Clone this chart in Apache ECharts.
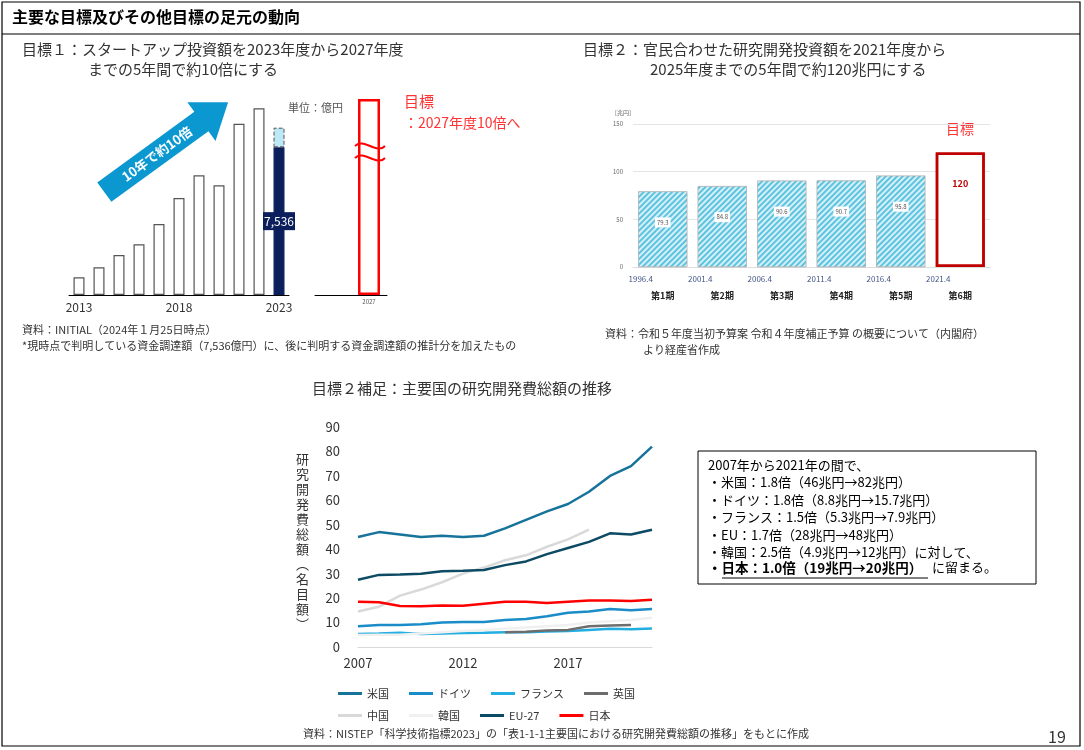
<!DOCTYPE html>
<html><head><meta charset="utf-8">
<script src="https://cdn.jsdelivr.net/npm/echarts@6/dist/echarts.min.js"></script>
<style>html,body{margin:0;padding:0;background:#fff}#c{width:1084px;height:750px}</style>
</head><body><div id="c"></div>
<script>
// 目標1: スタートアップ投資額（億円）
const startupYears = ['2013','2014','2015','2016','2017','2018','2019','2020','2021','2022','2023'];
const startupValues = [900, 1410, 2040, 2590, 3620, 4950, 6110, 5600, 8740, 9530, 7536];
const startupEstimate = [null, null, null, null, null, null, null, null, null, null, 1000];
const targetYears = ['', '2027'];
const targetValues = [null, 10000];

// 目標2: 科学技術基本計画 研究開発投資（兆円）
const planDates = ['1996.4','2001.4','2006.4','2011.4','2016.4','2021.4'];
const planNames = ['第1期','第2期','第3期','第4期','第5期','第6期'];
const planValues = [79.3, 84.8, 90.6, 90.7, 95.8, 120];

// 主要国の研究開発費総額（兆円）
const years = ['2007','2008','2009','2010','2011','2012','2013','2014','2015','2016','2017','2018','2019','2020','2021'];
const us = [45, 47, 46, 45, 45.5, 45, 45.5, 48.5, 52, 55.5, 58.5, 63.5, 70, 74, 82];
const germany = [8.5, 9, 9, 9.3, 10, 10.2, 10.2, 11, 11.5, 12.6, 14, 14.5, 15.5, 15, 15.5];
const france = [5.3, 5.5, 5.8, 5.3, 5.5, 5.7, 5.8, 6, 6, 6.3, 6.5, 7, 7.5, 7.3, 7.6];
const uk = [null, null, null, null, null, null, null, 6, 6.2, 6.8, 7, 8.5, 8.8, 9, null];
const china = [14.5, 16.5, 21, 23.5, 26.5, 30, 32.5, 35.5, 37.5, 41, 44, 48, null, null, null];
const korea = [4.9, 5, 5, 5.5, 6, 6.5, 7, 7.5, 8, 8.5, 9, 10, 10.5, 11, 12];
const eu27 = [27.5, 29.5, 29.7, 30, 31, 31.2, 31.5, 33.5, 35, 38, 40.5, 43, 46.5, 46, 48];
const japan = [18.5, 18.3, 16.8, 16.7, 17, 16.9, 17.7, 18.5, 18.5, 18, 18.5, 19, 19, 18.8, 19.3];
const legendRow1 = ['米国', 'ドイツ', 'フランス', '英国'];
const legendRow2 = ['中国', '韓国', 'EU-27', '日本'];

const FONT = '"Noto Sans CJK JP", "Noto Sans", sans-serif';
const chart = echarts.init(document.getElementById('c'));

function line(name, data, color, width) {
  return { name, type: 'line', xAxisIndex: 3, yAxisIndex: 3, data, symbol: 'none',
    lineStyle: { color, width: width || 2.5 }, itemStyle: { color }, connectNulls: false };
}
function txt(x, y, text, size, extra) {
  return { type: 'text', left: x, top: y, style: Object.assign({ text, font: (size || 14) + 'px ' + FONT, fill: '#333' }, extra || {}) };
}
function wave(y) {
  return { type: 'bezierCurve', shape: { x1: 355, y1: y, cpx1: 363, cpy1: y - 9, cpx2: 377, cpy2: y + 9, x2: 385, y2: y },
    style: { fill: 'none', stroke: '#ff0000', lineWidth: 2 } };
}
function legend(top, data) {
  return { left: 333, top, itemWidth: 24, itemHeight: 3, itemGap: 20, icon: 'rect',
    textStyle: { fontSize: 11, color: '#333' }, data };
}

const option = {
  textStyle: { fontFamily: FONT },
  animation: false,
  grid: [
    { left: 69, top: 99, width: 220, height: 196 },
    { left: 315, top: 99, width: 72, height: 196 },
    { left: 633, top: 124, width: 357, height: 143 },
    { left: 358, top: 427, width: 294, height: 220 }
  ],
  xAxis: [
    { gridIndex: 0, type: 'category', data: startupYears, axisTick: { show: false },
      axisLine: { lineStyle: { color: '#000' } },
      axisLabel: { interval: 4, color: '#333', fontSize: 12, margin: 6 } },
    { gridIndex: 1, type: 'category', data: targetYears, axisTick: { show: false },
      axisLine: { lineStyle: { color: '#000' } },
      axisLabel: { color: '#555', fontSize: 6, margin: 4 } },
    { gridIndex: 2, type: 'category', data: planDates, axisTick: { show: false },
      axisLine: { lineStyle: { color: '#ddd' } },
      axisLabel: { interval: 0, margin: 8,
        formatter: (v, i) => '{d|' + v + '}\n{p|' + planNames[i] + '}',
        rich: { d: { color: '#44558a', fontSize: 8, padding: [0, 44, 4, 0] },
                p: { color: '#222', fontSize: 9, fontWeight: 'bold', padding: [4, 0, 0, 0] } } } },
    { gridIndex: 3, type: 'category', data: years, boundaryGap: false, axisTick: { show: false },
      axisLine: { lineStyle: { color: '#d9d9d9' } },
      axisLabel: { interval: 4, color: '#333', fontSize: 13, margin: 10 } }
  ],
  yAxis: [
    { gridIndex: 0, type: 'value', min: 0, max: 10000, show: false },
    { gridIndex: 1, type: 'value', min: 0, max: 10000, show: false },
    { gridIndex: 2, type: 'value', min: 0, max: 150, interval: 50,
      axisLine: { show: false }, axisTick: { show: false },
      axisLabel: { color: '#666', fontSize: 6, margin: 10 },
      splitLine: { lineStyle: { color: '#e4e4e4' } } },
    { gridIndex: 3, type: 'value', min: 0, max: 90, interval: 10,
      axisLine: { show: false }, axisTick: { show: false },
      axisLabel: { color: '#333', fontSize: 13, margin: 18 },
      splitLine: { show: false } }
  ],
  legend: [legend(683, legendRow1), legend(705, legendRow2)],
  series: [
    { type: 'bar', xAxisIndex: 0, yAxisIndex: 0, stack: 's', barWidth: 11, silent: true,
      data: startupValues.map((v, i) => i === startupValues.length - 1 ? {
          value: v, itemStyle: { color: '#0a1f5c', borderColor: '#0a1f5c' },
          label: { show: true, position: 'inside', formatter: '7,536', color: '#fff', fontSize: 12,
            backgroundColor: '#0a1f5c', padding: [3, 1] } } : v),
      itemStyle: { color: '#fff', borderColor: '#555', borderWidth: 1.2 } },
    { type: 'bar', xAxisIndex: 0, yAxisIndex: 0, stack: 's', barWidth: 11, silent: true,
      data: startupEstimate,
      itemStyle: { color: '#bde9f7', borderColor: '#555', borderWidth: 1, borderType: 'dashed' } },
    { type: 'bar', xAxisIndex: 1, yAxisIndex: 1, barWidth: 22, data: targetValues, silent: true,
      itemStyle: { color: 'transparent', borderColor: '#ff0000', borderWidth: 2.5 } },
    { type: 'bar', xAxisIndex: 2, yAxisIndex: 2, barWidth: 49, silent: true,
      data: planValues.map((v, i) => i === 5 ? {
          value: v, itemStyle: { color: '#fff', borderColor: '#c00000', borderWidth: 2.5,
            decal: { symbol: 'rect', color: 'rgba(0,0,0,0)' } },
          label: { show: true, position: 'insideTop', distance: 24, color: '#c00000', fontSize: 9, fontWeight: 'bold',
            backgroundColor: 'transparent', formatter: '120' } } : v),
      itemStyle: { color: '#5cc3e0', borderColor: '#aaa', borderWidth: 0.5,
        decal: { symbol: 'rect', color: 'rgba(255,255,255,0.75)', dashArrayX: [1, 0], dashArrayY: [2, 2], rotation: -Math.PI / 4 } },
      label: { show: true, position: 'insideTop', distance: 26, fontSize: 6, color: '#555',
        backgroundColor: '#fff', padding: [2, 2] } },
    line('米国', us, '#17739a'),
    line('ドイツ', germany, '#1a8cc8'),
    line('フランス', france, '#22aee0'),
    line('英国', uk, '#6d6d6d'),
    line('中国', china, '#d9d9d9'),
    line('韓国', korea, '#f0f0f0'),
    line('EU-27', eu27, '#0d4a63'),
    line('日本', japan, '#ff0000')
  ],
  graphic: [
    { type: 'rect', shape: { x: 2, y: 2, width: 1078, height: 744 }, style: { fill: 'none', stroke: '#000', lineWidth: 1.2 } },
    { type: 'line', shape: { x1: 2, y1: 34, x2: 1080, y2: 34 }, style: { stroke: '#000', lineWidth: 1.2 } },
    txt(12, 9, '主要な目標及びその他目標の足元の動向', 16, { fill: '#000', font: 'bold 16px ' + FONT }),
    txt(22, 42, '目標１：スタートアップ投資額を2023年度から2027年度', 15),
    txt(88, 62, 'までの5年間で約10倍にする', 15),
    txt(583, 42, '目標２：官民合わせた研究開発投資額を2021年度から', 15),
    txt(650, 62, '2025年度までの5年間で約120兆円にする', 15),
    txt(288, 102, '単位：億円', 11, { fill: '#555' }),
    txt(404, 94, '目標', 15, { fill: '#ff3333' }),
    txt(404, 116, '：2027年度10倍へ', 14, { fill: '#ff3333' }),
    { type: 'rect', shape: { x: 354, y: 137, width: 32, height: 30 }, style: { fill: '#fff' } },
    wave(146), wave(158),
    { type: 'group', x: 165, y: 148, rotation: Math.PI * 0.2, children: [
      { type: 'polygon', shape: { points: [[-75, 12], [45, 12], [45, 24], [78, 0], [45, -24], [45, -12], [-75, -12]] },
        style: { fill: '#0b98d0' } },
      { type: 'text', x: -10, y: 0, style: { text: '10年で約10倍', font: 'bold 13px ' + FONT, fill: '#fff', align: 'center', verticalAlign: 'middle' } }
    ] },
    txt(615, 110, '[兆円]', 6, { fill: '#666' }),
    txt(946, 122, '目標', 14, { fill: '#ff3333' }),
    txt(22, 324, '資料：INITIAL（2024年１月25日時点）', 11),
    txt(22, 340, '*現時点で判明している資金調達額（7,536億円）に、後に判明する資金調達額の推計分を加えたもの', 11),
    txt(605, 328, '資料：令和５年度当初予算案 令和４年度補正予算 の概要について（内閣府）', 11),
    txt(643, 344, 'より経産省作成', 11),
    txt(312, 381, '目標２補足：主要国の研究開発費総額の推移', 15),
    txt(296, 452, '研\n究\n開\n発\n費\n総\n額\n︵\n名\n目\n額\n︶', 13, { lineHeight: 15 }),
    { type: 'rect', shape: { x: 698, y: 451, width: 338, height: 133 }, style: { fill: '#fff', stroke: '#000', lineWidth: 1 } },
    txt(708, 456, '2007年から2021年の間で、\n・米国：1.8倍（46兆円→82兆円）\n・ドイツ：1.8倍（8.8兆円→15.7兆円）\n・フランス：1.5倍（5.3兆円→7.9兆円）\n・EU：1.7倍（28兆円→48兆円）\n・韓国：2.5倍（4.9兆円→12兆円）に対して、', 13, { lineHeight: 17.5, fill: '#000' }),
    txt(708, 561, '・日本：1.0倍（19兆円→20兆円）', 13.5, { font: 'bold 13.5px ' + FONT, fill: '#000' }),
    txt(932, 561, 'に留まる。', 13, { fill: '#000' }),
    { type: 'line', shape: { x1: 722, y1: 578, x2: 928, y2: 578 }, style: { stroke: '#000', lineWidth: 1 } },
    txt(303, 728, '資料：NISTEP「科学技術指標2023」の「表1-1-1主要国における研究開発費総額の推移」をもとに作成', 11),
    txt(1048, 729, '19', 16, { fill: '#333' })
  ]
};
chart.setOption(option);
</script></body></html>
